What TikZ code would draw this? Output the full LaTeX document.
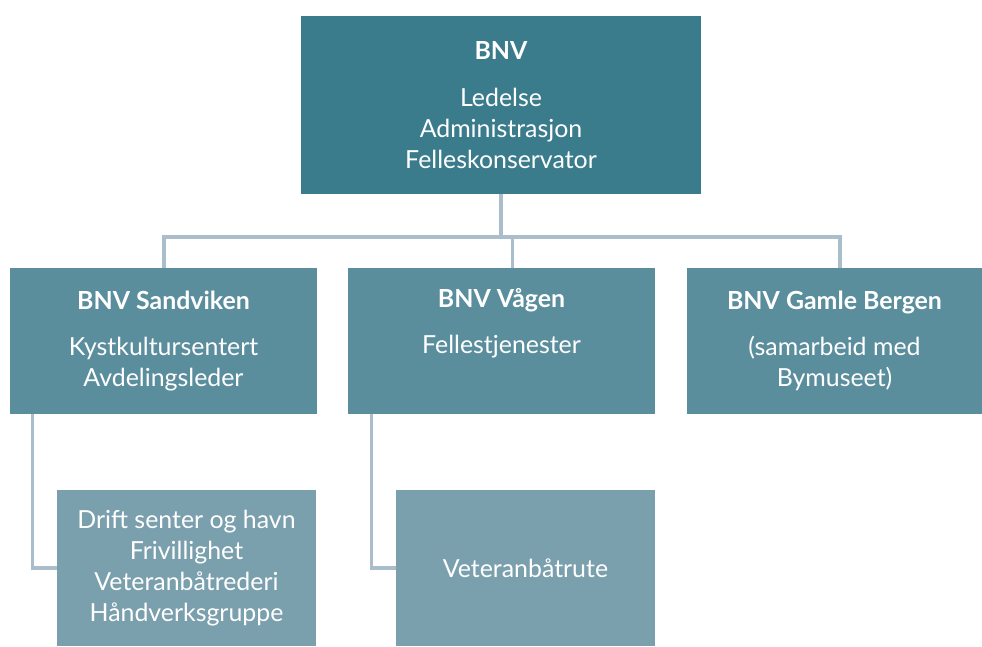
\documentclass[tikz,border=0pt]{standalone}
\usepackage{fontspec}
\setmainfont{Lato}
\usetikzlibrary{positioning}
\usetikzlibrary{calc}
\definecolor{bnvdark}{HTML}{3B7C8C}
\definecolor{bnvmid}{HTML}{5B8E9D}
\definecolor{bnvlight}{HTML}{7A9FAD}
\definecolor{bnvline}{HTML}{A9BECA}

\begin{document}
\begin{tikzpicture}[x=0.025cm, y=-0.025cm,
		box/.style={fill=#1, text=white, align=center, inner sep=0pt,
			font=\fontsize{17.7}{22}\selectfont},
		conn/.style={draw=bnvline, line width=2.4pt}]
				\useasboundingbox (0, 0) rectangle (982, 646);

				% boxes
				\node[box=bnvdark, minimum width=10cm, minimum height=4.45cm] (bnv) at (501, 105)
					{\textbf{BNV}\\[11pt]Ledelse\\Administrasjon\\Felleskonservator};
				\node[box=bnvmid, minimum width=7.675cm, minimum height=3.65cm] (sand) at (163.5, 341)
					{\textbf{BNV Sandviken}\\[11pt]Kystkultursentert\\Avdelingsleder};
				\node[box=bnvmid, minimum width=7.675cm, minimum height=3.65cm] (vag) at (501.5, 341)
					{\textbf{BNV Vågen}\\[11pt]Fellestjenester\\\strut};
				\node[box=bnvmid, minimum width=7.375cm, minimum height=3.65cm] (gb) at (834.5, 341)
					{\textbf{BNV Gamle Bergen}\\[11pt](samarbeid med\\Bymuseet)};
				\node[box=bnvlight, minimum width=6.475cm, minimum height=3.9cm] (drift) at (186.5, 568)
					{Drift senter og havn\\Frivillighet\\Veteranbåtrederi\\Håndverksgruppe};
				\node[box=bnvlight, minimum width=6.475cm, minimum height=3.9cm] (rute) at (525.5, 568)
					{Veteranbåtrute};

				% connectors
				\coordinate (busL) at (164, 237);
				\coordinate (busR) at (840, 237);
				\coordinate (vagtop) at ($(vag.north)+(11, 0)$);
				\draw[conn] (bnv.south) -- (bnv.south |- busL);
				\draw[conn] (sand.north -| busL) -- (busL) -- (busR) -- (gb.north -| busR);
				\draw[conn] (vagtop) -- (vagtop |- busL);
				\draw[conn] ($(sand.south west)+(23, 0)$) |- (drift.west);
				\draw[conn] ($(vag.south west)+(24, 0)$) |- (rute.west);
			\end{tikzpicture}
\end{document}
